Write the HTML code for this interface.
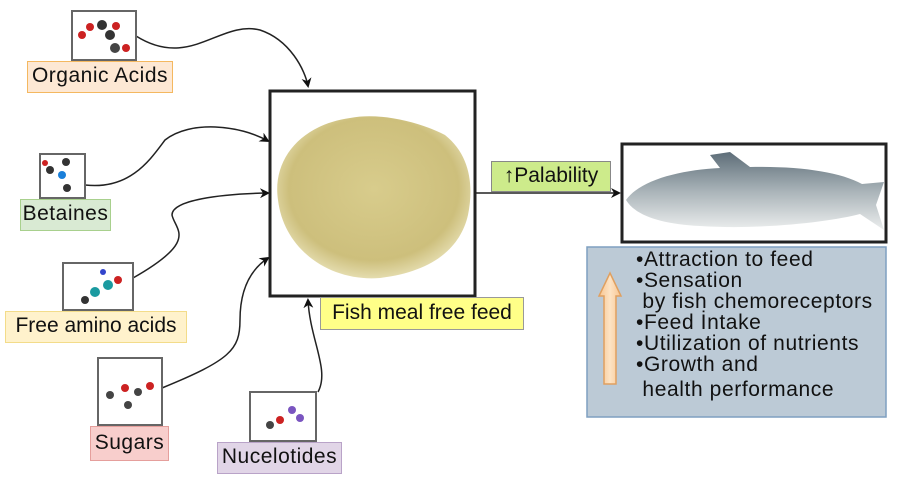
<!DOCTYPE html>
<html><head><style>
body{margin:0;width:900px;height:481px;background:#fff;position:relative;overflow:hidden;font-family:"Liberation Sans",sans-serif;}
.lab{position:absolute;box-sizing:border-box;font-size:21px;letter-spacing:0.5px;color:#111;text-align:center;line-height:28px;white-space:nowrap;}
.mol{position:absolute;box-sizing:border-box;border:2px solid #666;}
</style></head><body>
<svg width="900" height="481" style="position:absolute;left:0;top:0">
<defs><marker id="a" markerWidth="10" markerHeight="10" refX="8" refY="5" orient="auto" markerUnits="userSpaceOnUse"><path d="M0,0 L10,5 L0,10 L3,5z" fill="#111"/></marker>
<radialGradient id="g" cx="50%" cy="45%" r="55%"><stop offset="0" stop-color="#d8cc8c"/><stop offset="0.8" stop-color="#cdbf7c"/><stop offset="1" stop-color="#e4dcae"/></radialGradient>
<linearGradient id="f" x1="0" y1="0" x2="0" y2="1"><stop offset="0" stop-color="#5d6d78"/><stop offset="0.5" stop-color="#a9b3b8"/><stop offset="1" stop-color="#eceeee"/></linearGradient>
<linearGradient id="o" x1="0" y1="0" x2="1" y2="0"><stop offset="0" stop-color="#f8c590"/><stop offset="0.5" stop-color="#fde3c4"/><stop offset="1" stop-color="#f8c590"/></linearGradient></defs>
<g fill="none" stroke="#222" stroke-width="1.5">
<path d="M136,36 C190,70 220,20 260,30 C290,40 305,70 308,86" marker-end="url(#a)"/>
<path d="M85,185 C130,190 150,160 165,140 C190,120 240,125 268,141" marker-end="url(#a)"/>
<path d="M133,278 C200,240 175,230 172,215 C172,200 220,194 268,193" marker-end="url(#a)"/>
<path d="M162,388 C230,360 240,350 240,320 C240,290 250,270 268,258" marker-end="url(#a)"/>
<path d="M318,392 C330,370 310,340 308,300" marker-end="url(#a)"/>
<path d="M476,193 L619,193" marker-end="url(#a)"/>
</g>
<rect x="270" y="91" width="205" height="205" fill="#fff" stroke="#222" stroke-width="3"/>
<path d="M278,200 C272,160 300,125 350,118 C380,112 420,122 445,135 C470,155 474,185 468,215 C460,250 430,272 380,278 C330,282 284,250 278,200z" fill="url(#g)"/>
<rect x="622" y="144" width="264" height="98" fill="#fff" stroke="#222" stroke-width="3"/>
<path d="M626,200 C640,180 680,170 720,168 L710,155 L730,152 L750,167 C800,166 840,172 862,184 L884,182 L876,205 L884,230 L860,214 C830,222 760,230 700,226 C660,224 635,215 626,200z" fill="url(#f)"/>
<rect x="587" y="247" width="299" height="170" fill="#bccad6" stroke="#7f9fc0" stroke-width="1.5"/>
<path d="M604,384 L604,296 L599,296 L610,273 L621,296 L616,296 L616,384z" fill="url(#o)" stroke="#e0a060" stroke-width="1.5"/>
<g>
<circle cx="90" cy="27" r="4" fill="#c22"/><circle cx="102" cy="25" r="5" fill="#333"/><circle cx="110" cy="35" r="5" fill="#333"/><circle cx="116" cy="26" r="4" fill="#c22"/><circle cx="115" cy="48" r="5" fill="#444"/><circle cx="126" cy="48" r="4" fill="#c22"/><circle cx="82" cy="35" r="4" fill="#c22"/>
<circle cx="50" cy="170" r="4" fill="#333"/><circle cx="62" cy="175" r="4" fill="#1a7fd9"/><circle cx="66" cy="162" r="4" fill="#333"/><circle cx="67" cy="188" r="4" fill="#333"/><circle cx="45" cy="163" r="3" fill="#c22"/>
<circle cx="95" cy="292" r="5" fill="#1a9aa0"/><circle cx="108" cy="285" r="5" fill="#1a9aa0"/><circle cx="118" cy="280" r="4" fill="#c22"/><circle cx="85" cy="300" r="4" fill="#333"/><circle cx="103" cy="272" r="3" fill="#3344cc"/>
<circle cx="110" cy="395" r="4" fill="#444"/><circle cx="125" cy="388" r="4" fill="#c22"/><circle cx="138" cy="392" r="4" fill="#444"/><circle cx="150" cy="386" r="4" fill="#c22"/><circle cx="128" cy="405" r="4" fill="#444"/>
<circle cx="280" cy="420" r="4" fill="#c22"/><circle cx="292" cy="410" r="4" fill="#7a55c0"/><circle cx="300" cy="418" r="4" fill="#7a55c0"/><circle cx="270" cy="425" r="4" fill="#444"/>
</g>
</svg>
<div class="mol" style="left:71px;top:10px;width:66px;height:51px"></div>
<div class="lab" style="left:27px;top:61px;width:146px;height:32px;background:#fde8d4;border:1.5px solid #f4b860">Organic Acids</div>
<div class="mol" style="left:39px;top:153px;width:47px;height:46px"></div>
<div class="lab" style="left:20px;top:199px;width:91px;height:32px;background:#d9ead3;border:1.5px solid #a8d08d">Betaines</div>
<div class="mol" style="left:62px;top:262px;width:72px;height:49px"></div>
<div class="lab" style="left:5px;top:311px;width:182px;height:32px;background:#fff2cc;border:1.5px solid #f3dc8a;letter-spacing:0">Free amino acids</div>
<div class="mol" style="left:97px;top:357px;width:66px;height:69px"></div>
<div class="lab" style="left:90px;top:426px;width:79px;height:35px;background:#f8cecc;border:1.5px solid #e59f9c;line-height:32px">Sugars</div>
<div class="mol" style="left:249px;top:391px;width:68px;height:51px"></div>
<div class="lab" style="left:217px;top:442px;width:125px;height:32px;background:#e1d5e7;border:1.5px solid #b9a3c8">Nucelotides</div>
<div class="lab" style="left:320px;top:297px;width:204px;height:33px;background:#ffff88;border:1.5px solid #999;line-height:30px;letter-spacing:0">Fish meal free feed</div>
<div class="lab" style="left:491px;top:161px;width:120px;height:31px;background:#cdeb8b;border:1.5px solid #888;letter-spacing:0">↑Palability</div>
<div style="position:absolute;left:636px;top:249px;font-size:21px;letter-spacing:0.6px;line-height:21px;color:#111;white-space:nowrap">
•Attraction to feed<br>•Sensation<br>&nbsp;by fish chemoreceptors<br>•Feed İntake<br>•Utilization of nutrients<br>•Growth and<br><span style="line-height:30px">&nbsp;health performance</span></div>
</body></html>
